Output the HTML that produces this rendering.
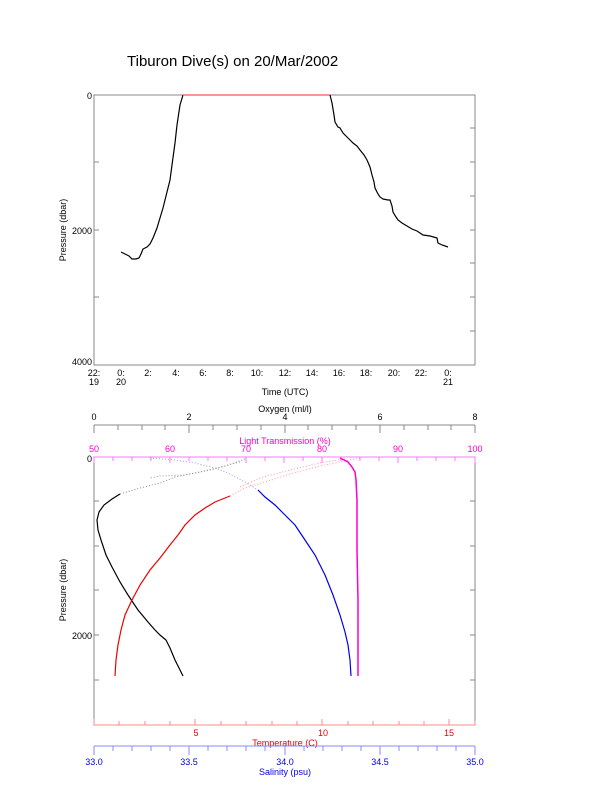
<!DOCTYPE html>
<html><head><meta charset="utf-8"><style>body{margin:0;background:#fff}svg{display:block}text{font-family:"Liberation Sans",sans-serif}</style></head><body>
<svg width="612" height="785" viewBox="0 0 612 785" xmlns="http://www.w3.org/2000/svg">
<rect width="612" height="785" fill="#fff"/>
<text x="127" y="66" font-size="15">Tiburon Dive(s) on 20/Mar/2002</text>
<!-- top plot -->
<rect x="94" y="95" width="381" height="270" fill="none" stroke="#888" stroke-width="1"/>
<g stroke="#888" stroke-width="1">
<line x1="94" y1="162" x2="99" y2="162"/><line x1="94" y1="230" x2="99" y2="230"/><line x1="94" y1="297" x2="99" y2="297"/>
<line x1="470" y1="128" x2="475" y2="128"/><line x1="470" y1="162" x2="475" y2="162"/><line x1="470" y1="196" x2="475" y2="196"/><line x1="470" y1="230" x2="475" y2="230"/><line x1="470" y1="263" x2="475" y2="263"/><line x1="470" y1="297" x2="475" y2="297"/><line x1="470" y1="331" x2="475" y2="331"/>
</g>
<g font-size="9" text-anchor="end"><text x="92" y="99">0</text><text x="92" y="234">2000</text><text x="92" y="365">4000</text></g>
<g font-size="9" text-anchor="middle">
<text x="94" y="376">22:</text><text x="94" y="385">19</text>
<text x="121" y="376">0:</text><text x="121" y="385">20</text>
<text x="148" y="376">2:</text><text x="176" y="376">4:</text><text x="203" y="376">6:</text><text x="230" y="376">8:</text><text x="257" y="376">10:</text><text x="285" y="376">12:</text><text x="312" y="376">14:</text><text x="339" y="376">16:</text><text x="366" y="376">18:</text><text x="394" y="376">20:</text><text x="421" y="376">22:</text>
<text x="448" y="376">0:</text><text x="448" y="385">21</text>
<text x="285" y="395">Time (UTC)</text>
</g>
<text transform="translate(66,230) rotate(-90)" font-size="9" text-anchor="middle">Pressure (dbar)</text>
<polyline fill="none" stroke="#000" stroke-width="1.2" points="121,252 125,254 129,256 132,259 136,259 139,258 141,254 143,249 147,247 150,244 153,238 157,228 160,218 163,208 166,196 170,180 172,165 175,143 177,125 180,105 183,95"/>
<line x1="183" y1="95" x2="330" y2="95" stroke="#f55" stroke-width="1.2"/>
<polyline fill="none" stroke="#000" stroke-width="1.2" points="330,95 332,103 334,115 335,122 338,127 340,128 343,133 347,137 350,140 353,143 357,146 360,150 364,155 367,160 370,167 372,175 374,182 375,188 378,194 380,197 383,199 388,200 390,200 392,206 393,212 396,217 398,220 402,223 407,226 412,229 417,231 420,233 423,235 430,236 437,238 438,243 442,245 448,247"/>
<!-- bottom plot -->
<rect x="94" y="457" width="381" height="268" fill="none" stroke="#888"/>
<g stroke="#888"><line x1="94" y1="425" x2="475" y2="425"/>
<line x1="94" y1="501" x2="99" y2="501"/><line x1="94" y1="546" x2="99" y2="546"/><line x1="94" y1="590" x2="99" y2="590"/><line x1="94" y1="635" x2="99" y2="635"/><line x1="94" y1="680" x2="99" y2="680"/>
<line x1="470" y1="501" x2="475" y2="501"/><line x1="470" y1="546" x2="475" y2="546"/><line x1="470" y1="590" x2="475" y2="590"/><line x1="470" y1="635" x2="475" y2="635"/><line x1="470" y1="680" x2="475" y2="680"/>
</g>
<g stroke="#888">
<path d="M94 425v8M118 425v5M142 425v5M165 425v5M189 425v8M213 425v5M237 425v5M261 425v5M285 425v8M308 425v5M332 425v5M356 425v5M380 425v8M404 425v5M428 425v5M451 425v5M475 425v8"/>
</g>
<g font-size="9" text-anchor="middle"><text x="94" y="420">0</text><text x="189" y="420">2</text><text x="285" y="420">4</text><text x="380" y="420">6</text><text x="475" y="420">8</text><text x="285" y="412">Oxygen (ml/l)</text></g>
<g stroke="#f7f" stroke-width="1">
<line x1="94" y1="457" x2="475" y2="457"/>
<path d="M94 457v6M113 457v4M132 457v4M151 457v4M170 457v4M189 457v4M208 457v4M227 457v4M246 457v4M265 457v4M284 457v6M303 457v4M322 457v4M341 457v4M360 457v4M379 457v4M398 457v4M417 457v4M436 457v4M455 457v4M475 457v6M170 457v6M246 457v6M322 457v6M398 457v6"/>
</g>
<g font-size="9" fill="#f0c" text-anchor="middle"><text x="94" y="452">50</text><text x="170" y="452">60</text><text x="246" y="452">70</text><text x="322" y="452">80</text><text x="398" y="452">90</text><text x="475" y="452">100</text><text x="285" y="444">Light Transmission (%)</text></g>
<g stroke="#f88"><line x1="94" y1="725" x2="475" y2="725"/>
<path d="M94 725v-6M119 725v-4M145 725v-4M170 725v-4M195 725v-6M221 725v-4M246 725v-4M272 725v-4M297 725v-4M322 725v-6M348 725v-4M373 725v-4M399 725v-4M424 725v-4M449 725v-6M475 725v-4"/></g>
<g font-size="9" fill="#e00" text-anchor="middle"><text x="196" y="736">5</text><text x="323" y="736">10</text><text x="449" y="736">15</text><text x="285" y="746">Temperature (C)</text></g>
<g stroke="#88f"><line x1="94" y1="746" x2="475" y2="746"/>
<path d="M94 746v9M113 746v5M132 746v5M151 746v5M170 746v5M189 746v9M208 746v5M227 746v5M246 746v5M265 746v5M285 746v9M304 746v5M323 746v5M342 746v5M361 746v5M380 746v9M399 746v5M418 746v5M437 746v5M456 746v5M475 746v9"/></g>
<g font-size="9" fill="#00e" text-anchor="middle"><text x="94" y="765">33.0</text><text x="189" y="765">33.5</text><text x="285" y="765">34.0</text><text x="380" y="765">34.5</text><text x="475" y="765">35.0</text><text x="285" y="775">Salinity (psu)</text></g>
<g font-size="9" text-anchor="end"><text x="92" y="462">0</text><text x="92" y="639">2000</text></g>
<text transform="translate(66,590) rotate(-90)" font-size="9" text-anchor="middle">Pressure (dbar)</text>
<!-- data -->
<polyline fill="none" stroke="#888" stroke-width="1" stroke-dasharray="1,2" points="245,459 225,466 200,472 175,477 160,483 140,488 120,494"/>
<polyline fill="none" stroke="#999" stroke-width="1" stroke-dasharray="1,2" points="240,462 210,470 185,475 160,476 150,478"/>
<polyline fill="none" stroke="#000" stroke-width="1.2" points="120,494 112,499 104,505 99,512 97,520 98,530 101,540 106,555 112,567 120,582 128,595 138,610 148,622 155,630 160,635 166,640 170,648 175,660 179,668 183,676"/>
<polyline fill="none" stroke="#f99" stroke-width="1" stroke-dasharray="1,2" points="360,458 345,461 320,466 290,474 265,482 245,488 230,496"/>
<polyline fill="none" stroke="#f99" stroke-width="1" stroke-dasharray="1,2" points="345,459 320,463 290,470 260,478 240,487"/>
<polyline fill="none" stroke="#e00" stroke-width="1.2" points="230,496 215,502 205,508 195,515 185,525 178,535 170,545 160,558 150,570 140,585 132,600 125,615 121,630 118,645 116,660 115,676"/>
<polyline fill="none" stroke="#99f" stroke-width="1" stroke-dasharray="1,2" points="150,458 175,460 195,463 215,468 230,474 245,482 258,490"/>
<polyline fill="none" stroke="#00e" stroke-width="1.2" points="258,490 265,497 275,505 285,515 295,525 305,540 315,555 325,575 333,595 340,615 345,632 348,645 350,660 351,676"/>
<polyline fill="none" stroke="#f0c" stroke-width="1.5" points="340,458 348,462 352,467 355,472 356,480 357,500 357,550 358,600 358,676"/>
</svg>
</body></html>
